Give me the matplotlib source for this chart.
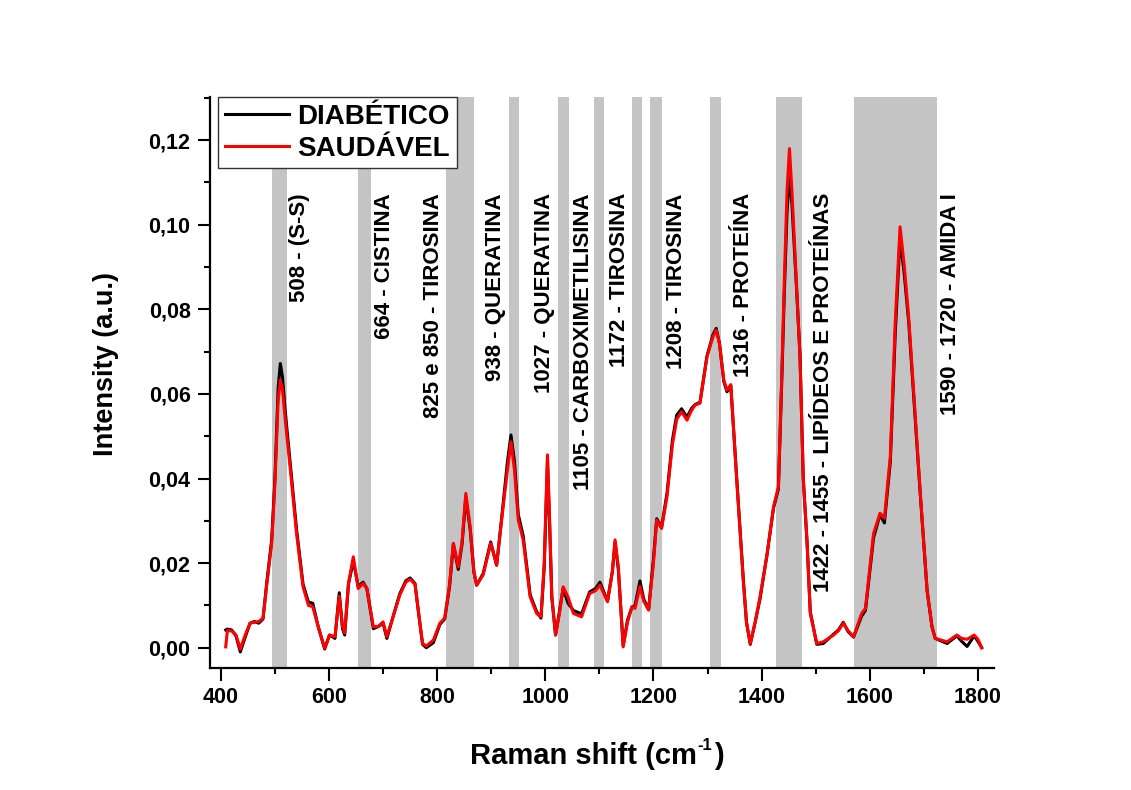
import numpy as np
import matplotlib
matplotlib.use('Agg')
import matplotlib.pyplot as plt
from matplotlib.ticker import MultipleLocator, FuncFormatter

# Estilo general (Arial -> Liberation Sans)
plt.rcParams.update({'font.family': 'Liberation Sans', 'font.weight': 'bold'})

# Deslocamento Raman (cm-1)
shift = [409, 412, 420, 428, 436, 445, 454, 462, 470, 478, 485, 494, 500, 506, 510, 514, 519,
         528, 540, 552, 562, 570, 580, 592, 601, 611, 619, 625, 629, 636, 645, 654, 663, 670,
         682, 691, 700, 707, 720, 731, 742, 750, 759, 766, 773, 780, 793, 805, 814, 823, 830,
         839, 846, 853, 861, 868, 873, 885, 899, 910, 922, 930, 936.5, 943, 950, 959, 972, 984,
         992, 998, 1004, 1008, 1012, 1019, 1026, 1033, 1042, 1052, 1067, 1082, 1093, 1101, 1115,
         1124, 1129, 1135, 1144, 1152, 1160, 1166, 1175, 1182, 1191, 1200, 1206, 1215, 1225,
         1235, 1243, 1252, 1262, 1270, 1277, 1286, 1299, 1310, 1316, 1322, 1330, 1336, 1343,
         1354, 1366, 1372, 1379, 1388, 1397, 1410, 1422, 1431, 1437, 1442, 1447, 1451.5, 1456,
         1465, 1471, 1477, 1484, 1490, 1502, 1514, 1533, 1542, 1551, 1560, 1570, 1585, 1592,
         1607, 1619, 1627, 1638, 1647, 1656, 1664, 1672, 1681, 1693, 1706, 1715, 1721, 1743,
         1761, 1770, 1780, 1793, 1800, 1807]

# Espectro medio - saudavel
saudavel = [0.0002, 0.0040, 0.0040, 0.0030, -0.0003, 0.0030, 0.0058, 0.0060, 0.0062, 0.0070,
            0.0150, 0.0247, 0.0389, 0.0586, 0.0633, 0.0610, 0.0540, 0.0428, 0.0270, 0.0144,
            0.0100, 0.0097, 0.0050, -0.0001, 0.0030, 0.0026, 0.0122, 0.0050, 0.0035, 0.0152,
            0.0215, 0.0140, 0.0152, 0.0140, 0.0050, 0.0050, 0.0061, 0.0026, 0.0080, 0.0125,
            0.0155, 0.0162, 0.0150, 0.0080, 0.0010, 0.0004, 0.0018, 0.0058, 0.0070, 0.0150,
            0.0247, 0.0191, 0.0250, 0.0365, 0.0286, 0.0180, 0.0148, 0.0172, 0.0247, 0.0196,
            0.0333, 0.0420, 0.0487, 0.0420, 0.0302, 0.0255, 0.0120, 0.0081, 0.0073, 0.0200,
            0.0456, 0.0300, 0.0120, 0.0030, 0.0080, 0.0144, 0.0120, 0.0081, 0.0073, 0.0128,
            0.0135, 0.0148, 0.0109, 0.0180, 0.0255, 0.0191, 0.0002, 0.0060, 0.0097, 0.0093,
            0.0145, 0.0110, 0.0089, 0.0200, 0.0302, 0.0282, 0.0357, 0.0480, 0.0540, 0.0558,
            0.0538, 0.0560, 0.0574, 0.0578, 0.0688, 0.0735, 0.0751, 0.0720, 0.0633, 0.0609,
            0.0622, 0.0396, 0.0160, 0.0060, 0.0010, 0.0060, 0.0120, 0.0220, 0.0333, 0.0380,
            0.0633, 0.0869, 0.1080, 0.1180, 0.1080, 0.0846, 0.0688, 0.0400, 0.0250, 0.0081,
            0.0010, 0.0014, 0.0030, 0.0040, 0.0058, 0.0040, 0.0026, 0.0081, 0.0093, 0.0270,
            0.0318, 0.0306, 0.0452, 0.0767, 0.0995, 0.0900, 0.0780, 0.0609, 0.0373, 0.0136,
            0.0050, 0.0022, 0.0014, 0.0030, 0.0022, 0.0020, 0.0030, 0.0020, 0.0000]

# Espectro medio - diabetico
diabetico = [0.0042, 0.0044, 0.0042, 0.0028, -0.0010, 0.0025, 0.0058, 0.0062, 0.0058, 0.0068,
             0.0155, 0.0255, 0.0400, 0.0615, 0.0672, 0.0640, 0.0560, 0.0440, 0.0280, 0.0150,
             0.0108, 0.0105, 0.0050, -0.0003, 0.0030, 0.0022, 0.0130, 0.0045, 0.0030, 0.0150,
             0.0205, 0.0145, 0.0155, 0.0140, 0.0045, 0.0050, 0.0058, 0.0022, 0.0080, 0.0128,
             0.0158, 0.0165, 0.0152, 0.0078, 0.0008, 0.0000, 0.0012, 0.0055, 0.0068, 0.0145,
             0.0245, 0.0185, 0.0245, 0.0355, 0.0280, 0.0178, 0.0148, 0.0175, 0.0250, 0.0195,
             0.0340, 0.0440, 0.0503, 0.0440, 0.0315, 0.0265, 0.0125, 0.0085, 0.0070, 0.0190,
             0.0440, 0.0290, 0.0120, 0.0030, 0.0085, 0.0140, 0.0105, 0.0088, 0.0080, 0.0132,
             0.0140, 0.0155, 0.0110, 0.0180, 0.0250, 0.0185, 0.0005, 0.0065, 0.0095, 0.0100,
             0.0158, 0.0115, 0.0090, 0.0210, 0.0305, 0.0285, 0.0365, 0.0490, 0.0550, 0.0565,
             0.0545, 0.0565, 0.0575, 0.0580, 0.0690, 0.0740, 0.0755, 0.0720, 0.0630, 0.0605,
             0.0620, 0.0400, 0.0165, 0.0060, 0.0008, 0.0060, 0.0115, 0.0220, 0.0330, 0.0375,
             0.0620, 0.0840, 0.1030, 0.1117, 0.1050, 0.0840, 0.0690, 0.0400, 0.0250, 0.0085,
             0.0008, 0.0010, 0.0032, 0.0042, 0.0060, 0.0038, 0.0025, 0.0075, 0.0088, 0.0260,
             0.0315, 0.0295, 0.0440, 0.0740, 0.0970, 0.0880, 0.0770, 0.0600, 0.0370, 0.0135,
             0.0050, 0.0022, 0.0010, 0.0028, 0.0015, 0.0003, 0.0028, 0.0015, 0.0000]

# Faixas de atribuicao (inicio, fim) e rotulos
band_start = [495, 654, 817, 933, 1024, 1090, 1161, 1194, 1305, 1426, 1570]
band_end = [522, 678, 868, 951, 1044, 1109, 1179, 1216, 1325, 1474, 1724]
label_x = [546, 703, 793, 907, 999, 1070, 1138, 1243, 1366, 1514, 1749]
labels = ['508 - (S-S)', '664 - CISTINA', '825 e 850 - TIROSINA', '938 - QUERATINA',
          '1027 - QUERATINA', '1105 - CARBOXIMETILISINA', '1172 - TIROSINA',
          '1208 - TIROSINA', '1316 - PROTEÍNA', '1422 - 1455 - LIPÍDEOS E PROTEÍNAS',
          '1590 - 1720 - AMIDA I']

W, H = 1131, 790
fig = plt.figure(figsize=(W / 100, H / 100), dpi=100)
ax = fig.add_axes([0.1857, 0.1544, 0.6933, 0.7228])

for a, b in zip(band_start, band_end):
    ax.axvspan(a, b, color='#c4c4c4', lw=0, zorder=0)

for xl, txt in zip(label_x, labels):
    ax.text(xl, 0.1075, txt, rotation=90, ha='center', va='top', fontsize=16,
            fontweight='bold', zorder=3)

ax.plot(shift, diabetico, color='black', lw=2.2, label='DIABÉTICO', zorder=2)
ax.plot(shift, saudavel, color='#ff0000', lw=2.2, label='SAUDÁVEL', zorder=2)

ax.set_xlim(380, 1830)
ax.set_ylim(-0.0048, 0.1302)

ax.xaxis.set_major_locator(MultipleLocator(200))
ax.xaxis.set_minor_locator(MultipleLocator(100))
ax.yaxis.set_major_locator(MultipleLocator(0.02))
ax.yaxis.set_minor_locator(MultipleLocator(0.01))
ax.yaxis.set_major_formatter(FuncFormatter(lambda v, p: f"{v:.2f}".replace('.', ',')))

for s in ['top', 'right']:
    ax.spines[s].set_visible(False)
for s in ['left', 'bottom']:
    ax.spines[s].set_linewidth(1.6)

ax.tick_params(which='major', direction='out', length=9, width=1.5, labelsize=15.5, pad=5)
ax.tick_params(which='minor', direction='out', length=4.5, width=1.5)
for t in ax.get_xticklabels() + ax.get_yticklabels():
    t.set_fontweight('bold')

ax.set_ylabel('Intensity (a.u.)', fontsize=19.5, fontweight='bold')
ax.yaxis.set_label_coords(-0.116, 0.532)

# Rotulo do eixo x com expoente "-1" em hifen (em partes)
fig.canvas.draw()
r = fig.canvas.get_renderer()
x0 = 470
base_y = 1 - 764 / H
t1 = fig.text(x0 / W, base_y, 'Raman shift (cm', fontsize=21, fontweight='bold', va='baseline')
w1 = t1.get_window_extent(r).width
t2 = fig.text((x0 + w1 + 1) / W, 1 - 750 / H, '-1', fontsize=12, fontweight='bold', va='baseline')
w2 = t2.get_window_extent(r).width
fig.text((x0 + w1 + w2 + 2) / W, base_y, ')', fontsize=21, fontweight='bold', va='baseline')

leg = ax.legend(loc='upper left', bbox_to_anchor=(0.0102, 1.0), borderaxespad=0,
                fontsize=20, frameon=True, fancybox=False, handlelength=2.3,
                handletextpad=0.3, labelspacing=0.2, borderpad=0.25)
leg.get_frame().set_edgecolor('#333333')
leg.get_frame().set_linewidth(1.0)
leg.get_frame().set_alpha(1)
for t in leg.get_texts():
    t.set_fontweight('bold')

fig.savefig('out.png', dpi=100)
